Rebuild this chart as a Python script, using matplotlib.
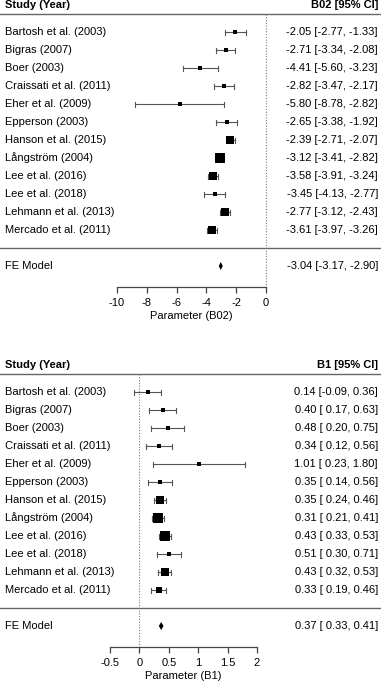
import numpy as np
import matplotlib
matplotlib.use("Agg")
from matplotlib import pyplot as plt

plt.rcParams['font.family'] = ['Liberation Sans', 'DejaVu Sans']

studies = ['Bartosh et al. (2003)', 'Bigras (2007)', 'Boer (2003)', 'Craissati et al. (2011)',
           'Eher et al. (2009)', 'Epperson (2003)', 'Hanson et al. (2015)', 'Långström (2004)',
           'Lee et al. (2016)', 'Lee et al. (2018)', 'Lehmann et al. (2013)', 'Mercado et al. (2011)']

b02_est = [-2.05, -2.71, -4.41, -2.82, -5.80, -2.65, -2.39, -3.12, -3.58, -3.45, -2.77, -3.61]
b02_lo = [-2.77, -3.34, -5.60, -3.47, -8.78, -3.38, -2.71, -3.41, -3.91, -4.13, -3.12, -3.97]
b02_hi = [-1.33, -2.08, -3.23, -2.17, -2.82, -1.92, -2.07, -2.82, -3.24, -2.77, -2.43, -3.26]
b02_fe = (-3.04, -3.17, -2.90)
b02_ticks = [-10, -8, -6, -4, -2, 0]
b02_ticklabels = ['-10', '-8', '-6', '-4', '-2', '0']

b1_est = [0.14, 0.40, 0.48, 0.34, 1.01, 0.35, 0.35, 0.31, 0.43, 0.51, 0.43, 0.33]
b1_lo = [-0.09, 0.17, 0.20, 0.12, 0.23, 0.14, 0.24, 0.21, 0.33, 0.30, 0.32, 0.19]
b1_hi = [0.36, 0.63, 0.75, 0.56, 1.80, 0.56, 0.46, 0.41, 0.53, 0.71, 0.53, 0.46]
b1_fe = (0.37, 0.33, 0.41)
b1_ticks = [-0.5, 0, 0.5, 1, 1.5, 2]
b1_ticklabels = ['-0.5', '0', '0.5', '1', '1.5', '2']


def fmt_col(vals):
    s = ['%.2f' % v for v in vals]
    w = max(len(x) for x in s)
    return [x.rjust(w) for x in s]


def forest(ax, est, lo, hi, fe, ticks, ticklabels, xlim, name, top):
    # everything in pixel rows of this half (y grows downward)
    ax.set_xlim(*xlim)
    ax.set_ylim(341, 0)
    n = len(est)
    rows = top + 27 + 18 * np.arange(n)
    sep_y = rows[-1] + 17.5
    fe_y = sep_y + 18.5
    axis_y = fe_y + 21

    trans = ax.get_yaxis_transform()  # x in axes fraction, y in data
    fs = 8

    # header
    ax.text(5 / 381, top, 'Study (Year)', transform=trans, fontsize=fs, fontweight='bold', ha='left', va='center')
    ax.text(378 / 381, top, name + ' [95% CI]', transform=trans, fontsize=fs, fontweight='bold', ha='right', va='center')
    ax.plot([0, 1], [top + 9, top + 9], transform=trans, color='#666666', lw=1.0, clip_on=False)
    ax.plot([0, 1], [sep_y, sep_y], transform=trans, color='#666666', lw=1.0, clip_on=False)

    # reference line at 0
    ax.plot([0, 0], [top + 9, axis_y], color='#777777', lw=0.8, ls=(0, (1, 1.5)))

    # marker sizes from inverse-variance weights, like metafor
    vi = ((np.array(hi) - np.array(lo)) / 3.92) ** 2
    w = 1 / vi
    psize = 0.5 + (w - w.min()) / (w.max() - w.min())

    # format estimate / bounds columns jointly with the summary row
    e_col = fmt_col(list(est) + [fe[0]])
    l_col = fmt_col(list(lo) + [fe[1]])
    h_col = fmt_col(list(hi) + [fe[2]])
    for i in range(n):
        y = rows[i]
        ax.plot([lo[i], hi[i]], [y, y], color='#555555', lw=0.8)
        ax.plot([lo[i], lo[i]], [y - 2.5, y + 2.5], color='#555555', lw=0.8)
        ax.plot([hi[i], hi[i]], [y - 2.5, y + 2.5], color='#555555', lw=0.8)
        ax.plot(est[i], y, marker='s', color='black', markersize=4.4 * psize[i], mew=0)
        ax.text(5 / 381, y, studies[i], transform=trans, fontsize=fs, ha='left', va='center')
        ax.text(378 / 381, y, '%s [%s, %s]' % (e_col[i], l_col[i], h_col[i]), transform=trans,
                fontsize=fs, ha='right', va='center')

    # summary diamond
    fe_est, fe_lo, fe_hi = fe
    ax.fill([fe_lo, fe_est, fe_hi, fe_est], [fe_y, fe_y - 4, fe_y, fe_y + 4], color='black', lw=0)
    ax.text(5 / 381, fe_y, 'FE Model', transform=trans, fontsize=fs, ha='left', va='center')
    ax.text(378 / 381, fe_y, '%s [%s, %s]' % (e_col[-1], l_col[-1], h_col[-1]), transform=trans,
            fontsize=fs, ha='right', va='center')

    # x axis
    for loc in ['top', 'right', 'left']:
        ax.spines[loc].set_visible(False)
    ax.spines['bottom'].set_position(('data', axis_y))
    ax.spines['bottom'].set_bounds(ticks[0], ticks[-1])
    ax.spines['bottom'].set_color('#444444')
    ax.spines['bottom'].set_linewidth(0.9)
    ax.set_xticks(ticks)
    ax.set_xticklabels(ticklabels, fontsize=fs)
    ax.tick_params(axis='x', direction='out', length=4, width=0.9, color='#444444', pad=4)
    ax.set_yticks([])
    ax.text((ticks[0] + ticks[-1]) / 2, axis_y + 29, 'Parameter (%s)' % name, fontsize=fs,
            ha='center', va='center')
    ax.patch.set_visible(False)


fig = plt.figure(figsize=(3.81, 6.82), dpi=100, facecolor='w')
ax1 = fig.add_axes([0, 341 / 682, 1, 341 / 682])
ax2 = fig.add_axes([0, 0, 1, 341 / 682])

forest(ax1, b02_est, b02_lo, b02_hi, b02_fe, b02_ticks, b02_ticklabels,
       (-266 / 14.9, (381 - 266) / 14.9), 'B02', 5)
forest(ax2, b1_est, b1_lo, b1_hi, b1_fe, b1_ticks, b1_ticklabels,
       (-139.4 / 58.8, (381 - 139.4) / 58.8), 'B1', 24)

fig.savefig('out.png', dpi=100)
